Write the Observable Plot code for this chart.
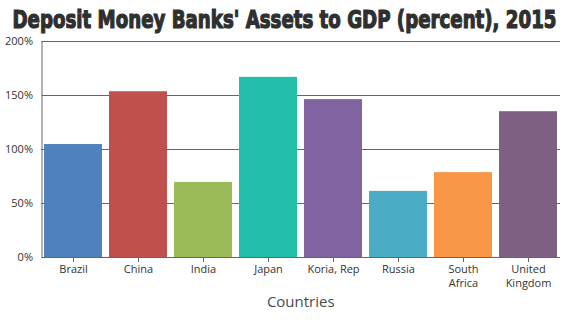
<!DOCTYPE html>
<html>
<head>
<meta charset="utf-8">
<script src="https://cdn.jsdelivr.net/npm/d3@7"></script>
<script src="https://cdn.jsdelivr.net/npm/@observablehq/plot@0.6"></script>
<style>
  html, body { margin: 0; padding: 0; background: #fff; }
  #chart { width: 570px; height: 320px; position: relative; }
</style>
</head>
<body>
<div id="chart"></div>
<script>
const countries = ["Brazil", "China", "India", "Japan", "Koria, Rep", "Russia", "South Africa", "United Kingdom"];
const assets = [104.6, 153.5, 69.5, 166.8, 146.2, 61.2, 78.6, 135.0];
const colors = ["#4F81BC", "#C0504E", "#9BBB58", "#23BFAA", "#8064A1", "#4AACC5", "#F79647", "#7F6084"];
const yTicks = [0, 50, 100, 150, 200];
const titleText = "Deposit Money Banks' Assets to GDP (percent), 2015";
const xTitle = "Countries";

const data = countries.map((c, i) => ({country: c, value: assets[i], color: colors[i]}));

const plot = Plot.plot({
  width: 570,
  height: 320,
  marginTop: 41,
  marginBottom: 63,
  marginLeft: 41.5,
  marginRight: 10,
  style: {fontFamily: "'Open Sans', 'DejaVu Sans', sans-serif", fontSize: "11px", color: "#333", background: "#fff"},
  x: {domain: countries, paddingInner: 0.108, paddingOuter: 0.04, label: null},
  y: {domain: [0, 200], label: null},
  marks: [
    Plot.ruleY(yTicks.filter(d => d > 0), {stroke: "#666", strokeWidth: 1, strokeOpacity: 1}),
    Plot.barY(data, {x: "country", y: "value", fill: "color"}),
    Plot.frame({anchor: "left", stroke: "#666", strokeWidth: 1}),
    Plot.ruleY([0], {stroke: "#666", strokeWidth: 1}),
    Plot.axisY({ticks: yTicks, tickSize: 0, tickPadding: 9, tickFormat: d => d + "%", fill: "#333", label: null}),
    Plot.axisX({tickSize: 5, tickPadding: 0, stroke: "#666", fill: "#333", label: null, lineHeight: 1.3,
      tickFormat: d => d === "South Africa" ? "South\nAfrica" : d === "United Kingdom" ? "United\nKingdom" : d})
  ]
});

document.getElementById("chart").appendChild(plot);

const svg = d3.select(plot);
svg.append("text")
  .attr("x", 284.5)
  .attr("y", 28)
  .attr("text-anchor", "middle")
  .attr("textLength", 544)
  .attr("lengthAdjust", "spacingAndGlyphs")
  .style("font-family", "'Liberation Sans Narrow', 'DejaVu Sans Condensed', sans-serif")
  .style("font-weight", "bold")
  .style("font-size", "25.5px")
  .attr("fill", "#2f2f2f")
  .attr("stroke", "#2f2f2f")
  .attr("stroke-width", 1.2)
  .text(titleText);

svg.append("text")
  .attr("x", 300.75)
  .attr("y", 307)
  .attr("text-anchor", "middle")
  .style("font-family", "'Open Sans', 'DejaVu Sans', sans-serif")
  .style("font-size", "15px")
  .attr("fill", "#4a4a4a")
  .text(xTitle);
</script>
</body>
</html>
